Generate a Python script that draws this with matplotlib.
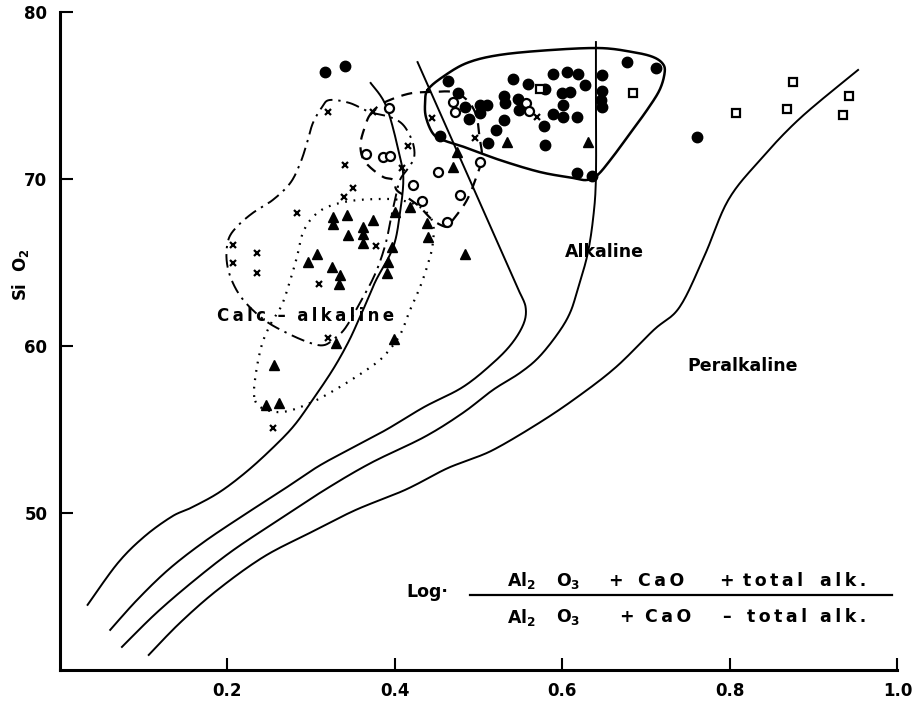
import numpy as np
import matplotlib
matplotlib.use("Agg")
import matplotlib.pyplot as plt

plt.rcParams['font.family'] = ['DejaVu Sans']
plt.rcParams['font.weight'] = 'bold'
plt.rcParams['mathtext.default'] = 'bf'

# --- sample points (x = log ratio, y = SiO2) ---
filled_x = [0.316, 0.340, 0.463, 0.475, 0.454, 0.488, 0.501, 0.510, 0.501, 0.484,
            0.530, 0.531, 0.530, 0.521, 0.511, 0.541, 0.559, 0.547, 0.548, 0.579,
            0.589, 0.605, 0.619, 0.627, 0.599, 0.609, 0.601, 0.589, 0.601, 0.617,
            0.578, 0.579, 0.647, 0.647, 0.646, 0.647, 0.677, 0.712, 0.617, 0.635, 0.761]
filled_y = [76.41, 76.77, 75.87, 75.15, 72.57, 73.59, 74.43, 74.43, 73.95, 74.31,
            74.97, 74.55, 73.53, 72.93, 72.16, 75.99, 75.69, 74.79, 74.13, 75.39,
            76.29, 76.41, 76.29, 75.63, 75.15, 75.21, 74.43, 73.89, 73.71, 73.71,
            73.17, 72.04, 76.23, 75.27, 74.73, 74.31, 77.01, 76.65, 70.36, 70.18, 72.51]

square_x = [0.573, 0.684, 0.875, 0.807, 0.868, 0.942, 0.935]
square_y = [75.39, 75.15, 75.81, 73.95, 74.19, 74.97, 73.83]

open_x = [0.393, 0.365, 0.386, 0.394, 0.421, 0.432, 0.462, 0.451, 0.501, 0.478,
          0.469, 0.472, 0.556, 0.560]
open_y = [74.25, 71.50, 71.32, 71.38, 69.64, 68.68, 67.43, 70.42, 71.02, 69.04,
          74.61, 74.01, 74.55, 74.07]

cross_x = [0.320, 0.374, 0.416, 0.340, 0.408, 0.350, 0.339, 0.283, 0.207, 0.235,
           0.207, 0.235, 0.309, 0.377, 0.320, 0.444, 0.496, 0.570, 0.254]
cross_y = [74.01, 74.01, 71.98, 70.84, 70.66, 69.46, 68.92, 67.96, 66.05, 65.57,
           64.97, 64.37, 63.71, 65.99, 60.48, 73.65, 72.46, 73.71, 55.09]

tri_x = [0.326, 0.326, 0.343, 0.374, 0.362, 0.344, 0.362, 0.362, 0.400, 0.418,
         0.438, 0.439, 0.484, 0.396, 0.392, 0.390, 0.307, 0.296, 0.325, 0.334,
         0.333, 0.330, 0.399, 0.256, 0.246, 0.261, 0.474, 0.469, 0.534, 0.630]
tri_y = [67.72, 67.31, 67.84, 67.54, 67.13, 66.65, 66.71, 66.17, 68.02, 68.32,
         67.37, 66.53, 65.51, 65.93, 65.03, 64.37, 65.51, 65.03, 64.73, 64.25,
         63.71, 60.18, 60.42, 58.86, 56.47, 56.59, 71.62, 70.72, 72.22, 72.22]

# --- field boundaries ---
curve_a_x = [0.033, 0.069, 0.101, 0.134, 0.156, 0.189, 0.221, 0.252, 0.279, 0.302,
             0.326, 0.344, 0.357, 0.371, 0.378, 0.398, 0.406, 0.410, 0.406, 0.390, 0.371]
curve_a_y = [44.5, 47.0, 48.6, 49.8, 50.3, 51.2, 52.4, 53.8, 55.2, 56.8,
             58.6, 60.2, 61.6, 63.2, 64.0, 65.93, 67.96, 69.94, 71.32, 74.31, 75.75]

curve_b_x = [0.060, 0.092, 0.129, 0.170, 0.216, 0.266, 0.307, 0.344, 0.389, 0.435,
             0.481, 0.517, 0.540, 0.554, 0.556, 0.549]
curve_b_y = [43.0, 44.79, 46.59, 48.20, 49.76, 51.38, 52.75, 53.77, 54.97, 56.35,
             57.54, 58.98, 60.18, 61.38, 62.34, 63.2]
curve_b_top = [0.427, 77.0]

curve_c_x = [0.074, 0.115, 0.161, 0.207, 0.261, 0.316, 0.371, 0.435, 0.481, 0.517,
             0.549, 0.572, 0.595, 0.609, 0.618, 0.630, 0.637, 0.640, 0.640, 0.640]
curve_c_y = [41.98, 44.01, 45.99, 47.78, 49.58, 51.38, 52.99, 54.55, 55.99, 57.37,
             58.38, 59.34, 60.78, 61.98, 63.35, 65.5, 67.8, 70.12, 74.73, 78.2]

curve_d_x = [0.106, 0.143, 0.188, 0.243, 0.298, 0.353, 0.412, 0.458, 0.481, 0.517,
             0.572, 0.618, 0.664, 0.709, 0.740, 0.770, 0.798, 0.836, 0.884, 0.953]
curve_d_y = [41.50, 43.41, 45.39, 47.37, 48.80, 50.18, 51.38, 52.57, 53.05, 53.77,
             55.39, 56.95, 58.74, 60.96, 62.34, 65.45, 68.74, 71.14, 73.65, 76.53]

# envelopes of the sample groups
solid_env_x = [0.439, 0.457, 0.486, 0.525, 0.585, 0.645, 0.684, 0.708, 0.720, 0.722,
               0.716, 0.701, 0.681, 0.660, 0.642, 0.629, 0.613, 0.573, 0.525, 0.486,
               0.457, 0.445, 0.437, 0.436]
solid_env_y = [75.33, 76.11, 76.95, 77.43, 77.72, 77.84, 77.60, 77.31, 76.89, 76.35,
               75.33, 74.13, 72.75, 71.32, 70.24, 69.94, 70.06, 70.42, 71.14, 71.86,
               72.34, 72.75, 73.71, 74.55]

dashdot_env_x = [0.313, 0.322, 0.346, 0.370, 0.394, 0.410, 0.421, 0.423, 0.416, 0.406,
                 0.400, 0.396, 0.390, 0.382, 0.373, 0.362, 0.349, 0.339, 0.330, 0.316,
                 0.299, 0.271, 0.244, 0.219, 0.205, 0.199, 0.201, 0.211, 0.230, 0.254,
                 0.275, 0.287, 0.295, 0.302]
dashdot_env_y = [74.31, 74.73, 74.55, 74.01, 73.71, 73.23, 72.22, 71.32, 70.66, 69.94,
                 68.74, 67.84, 66.35, 65.03, 63.95, 62.93, 61.74, 60.96, 60.54, 60.06,
                 60.18, 60.78, 61.56, 62.75, 63.95, 65.15, 66.35, 67.13, 67.96, 68.74,
                 69.76, 70.96, 72.16, 73.35]

dashed_env_x = [0.370, 0.382, 0.400, 0.421, 0.445, 0.469, 0.486, 0.497, 0.501, 0.504,
                0.499, 0.486, 0.469, 0.462, 0.445, 0.430, 0.414, 0.402, 0.398, 0.386,
                0.370, 0.361, 0.359, 0.364]
dashed_env_y = [73.83, 74.43, 74.85, 75.15, 75.21, 75.21, 74.73, 73.83, 72.51, 71.32,
                70.36, 68.74, 67.54, 67.13, 67.54, 68.32, 68.92, 69.34, 69.94, 70.12,
                70.72, 71.32, 72.16, 73.11]

dotted_env_x = [0.232, 0.234, 0.241, 0.251, 0.265, 0.275, 0.283, 0.290, 0.302, 0.319,
                0.346, 0.379, 0.406, 0.430, 0.445, 0.445, 0.439, 0.430, 0.418, 0.406,
                0.388, 0.371, 0.334, 0.299, 0.266, 0.241]
dotted_env_y = [56.95, 58.38, 60.06, 61.26, 62.46, 63.95, 65.33, 66.77, 67.72, 68.32,
                68.68, 68.80, 68.74, 68.32, 67.43, 66.05, 64.85, 63.53, 62.16, 60.66,
                59.46, 58.74, 57.54, 56.59, 56.05, 56.29]

x_ticks = [0.2, 0.4, 0.6, 0.8, 1.0]
x_ticklabels = ['0.2', '0.4', '0.6', '0.8', '1.0']
y_ticks = [50, 60, 70, 80]

TS = '\u2009'  # thin space, the scan has loosely set lettering


def spaced(word):
    return TS.join(word)


# pieces of the axis formula: (text, x position, alignment)
num_parts = [(r'Al$_2$', 0.534, 'left'), (r'O$_3$', 0.592, 'left'),
             ('+', 0.663, 'center'), (spaced('CaO'), 0.690, 'left'),
             ('+', 0.796, 'center'), (spaced('total'), 0.816, 'left'),
             (spaced('alk.'), 0.907, 'left')]
den_parts = [(r'Al$_2$', 0.534, 'left'), (r'O$_3$', 0.592, 'left'),
             ('+', 0.677, 'center'), (spaced('CaO'), 0.699, 'left'),
             ('–', 0.796, 'center'), (spaced('total'), 0.820, 'left'),
             (spaced('alk.'), 0.907, 'left')]


def smooth(xs, ys, closed=False, n=16):
    # Catmull-Rom through the traced points
    p = np.column_stack([xs, ys]).astype(float)
    if closed:
        p = np.vstack([p[-1], p, p[0], p[1]])
    else:
        p = np.vstack([p[0], p, p[-1]])
    t = np.linspace(0, 1, n, endpoint=False)[:, None]
    out = []
    for i in range(1, len(p) - 2):
        p0, p1, p2, p3 = p[i - 1], p[i], p[i + 1], p[i + 2]
        out.append(0.5 * (2 * p1 + (-p0 + p2) * t
                          + (2 * p0 - 5 * p1 + 4 * p2 - p3) * t ** 2
                          + (-p0 + 3 * p1 - 3 * p2 + p3) * t ** 3))
    out.append(p[-2][None, :])
    out = np.vstack(out)
    return out[:, 0], out[:, 1]


fig = plt.figure(figsize=(9.21, 7.02), dpi=100)
ax = fig.add_axes([0.0651, 0.0456, 0.9093, 0.9373])
ax.set_xlim(0, 1.0)
ax.set_ylim(40.6, 80)

lw = 1.4
ax.plot(*smooth(curve_a_x, curve_a_y), color='k', lw=lw)
bx, by = smooth(curve_b_x, curve_b_y)
ax.plot(np.append(bx, curve_b_top[0]), np.append(by, curve_b_top[1]), color='k', lw=lw)
ax.plot(*smooth(curve_c_x, curve_c_y), color='k', lw=lw)
ax.plot(*smooth(curve_d_x, curve_d_y), color='k', lw=lw)

ax.plot(*smooth(solid_env_x, solid_env_y, closed=True), color='k', lw=1.8)
ax.plot(*smooth(dashdot_env_x, dashdot_env_y, closed=True), color='k', lw=1.4,
        linestyle=(0, (7, 3, 1.2, 3)))
ax.plot(*smooth(dashed_env_x, dashed_env_y, closed=True), color='k', lw=1.6,
        linestyle=(0, (5, 3.5)))
ax.plot(*smooth(dotted_env_x, dotted_env_y, closed=True), color='k', lw=1.6,
        linestyle=(0, (0.8, 3)))

ax.plot(filled_x, filled_y, 'o', color='k', ms=7.5, ls='none')
ax.plot(square_x, square_y, 's', mfc='white', mec='k', mew=1.6, ms=5.5, ls='none')
ax.plot(open_x, open_y, 'o', mfc='white', mec='k', mew=1.6, ms=6.5, ls='none')
ax.plot(cross_x, cross_y, 'x', color='k', mew=1.6, ms=4.5, ls='none')
ax.plot(tri_x, tri_y, '^', color='k', ms=6.5, ls='none')

# field names
ax.text(0.293, 61.8, spaced('Calc') + '  –  ' + spaced('alkaline'), fontsize=12,
        fontweight='bold', ha='center', va='center')
ax.text(0.650, 65.6, 'Alkaline', fontsize=12.5, fontweight='bold',
        ha='center', va='center')
ax.text(0.815, 58.8, 'Peralkaline', fontsize=12.5, fontweight='bold',
        ha='center', va='center')

# x-axis formula
ax.text(0.414, 45.27, 'Log·', fontsize=12.5, fontweight='bold', ha='left', va='center')
ax.plot([0.490, 0.993], [45.09, 45.09], color='k', lw=1.6, clip_on=False)
for txt, xp, ha in num_parts:
    ax.text(xp, 45.95, txt, fontsize=12.5, ha=ha, va='center')
for txt, xp, ha in den_parts:
    ax.text(xp, 43.75, txt, fontsize=12.5, ha=ha, va='center')

ax.set_xticks(x_ticks)
ax.set_xticklabels(x_ticklabels)
ax.set_yticks(y_ticks)
ax.tick_params(direction='in', length=9, width=1.5, labelsize=12, pad=9)
for lab in ax.get_xticklabels() + ax.get_yticklabels():
    lab.set_fontweight('bold')
ax.set_ylabel(r'Si  O$_2$', fontsize=12, fontweight='bold')
ax.yaxis.set_label_coords(-0.035, 0.60)

for side in ['top', 'right']:
    ax.spines[side].set_visible(False)
for side in ['left', 'bottom']:
    ax.spines[side].set_linewidth(2.2)

fig.savefig('out.png', dpi=100)
